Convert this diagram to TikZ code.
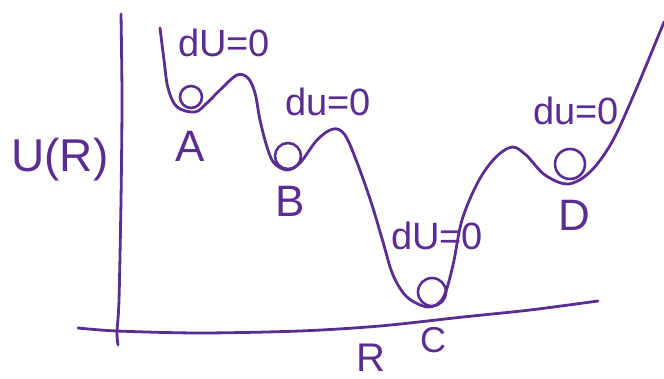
\documentclass[tikz,border=0pt]{standalone}
\usepackage{fontspec}
\setmainfont{Liberation Sans}
\definecolor{ink}{RGB}{90,45,145}
\begin{document}
\begin{tikzpicture}[x=1pt,y=-1pt,
  stroke/.style={draw=ink,line width=2.8pt,line cap=round,line join=round},
  ball/.style={circle,draw=ink,line width=2.6pt,inner sep=0pt},
  eq/.style={text=ink,inner sep=0pt,font=\fontsize{38}{38}\selectfont},
  lab/.style={text=ink,inner sep=0pt,font=\fontsize{44}{44}\selectfont}]
\useasboundingbox (0,0) rectangle (664,379);
% axes
\draw[stroke] plot[smooth,tension=0.5] coordinates {(121,14) (122,100) (121,200) (119,300) (117,332) (118,345)};
\draw[stroke] plot[smooth,tension=0.5] coordinates {(78,328) (117,331) (200,333) (300,331) (380,326) (463,317) (530,310) (598,301)};
% potential curve
\draw[stroke] plot[smooth,tension=0.55] coordinates {
 (160,28) (164,60) (168,88) (177,107) (195,112) (207,103) (220,90) (237,75)
 (248,78) (255,93) (260,120) (267,147) (274,163) (287,170) (300,163) (317,140)
 (333,129) (345,135) (358,165) (372,205) (383,242) (393,275) (407,297) (428,307)
 (443,298) (453,265) (462,220) (478,182) (495,158) (512,147) (526,155) (545,175)
 (568,184) (590,172) (612,142) (635,92) (664,22)};
% balls
\node[ball,minimum size=22pt] (ballA) at (191,97) {};
\node[ball,minimum size=26pt] (ballB) at (288,156) {};
\node[ball,minimum size=28pt] (ballC) at (432,292) {};
\node[ball,minimum size=30pt] (ballD) at (570,164) {};
% equilibrium labels
\node[eq] (eqA) at (224,43) {dU=0};
\node[eq] (eqB) at (328,102) {du=0};
\node[eq] (eqC) at (437,236) {dU=0};
\node[eq] (eqD) at (576,111) {du=0};
% point labels
\node[lab] (labA) at (190,146) {A};
\node[lab] (labB) at (290,201) {B};
\node[lab,font=\fontsize{36}{36}\selectfont] (labC) at (433,340) {C};
\node[lab] (labD) at (574,215) {D};
\node[lab,font=\fontsize{40}{40}\selectfont] (labR) at (371,358) {R};
\node[lab,font=\fontsize{46}{46}\selectfont] (labU) at (60,160) {U(R)};
\end{tikzpicture}
\end{document}
